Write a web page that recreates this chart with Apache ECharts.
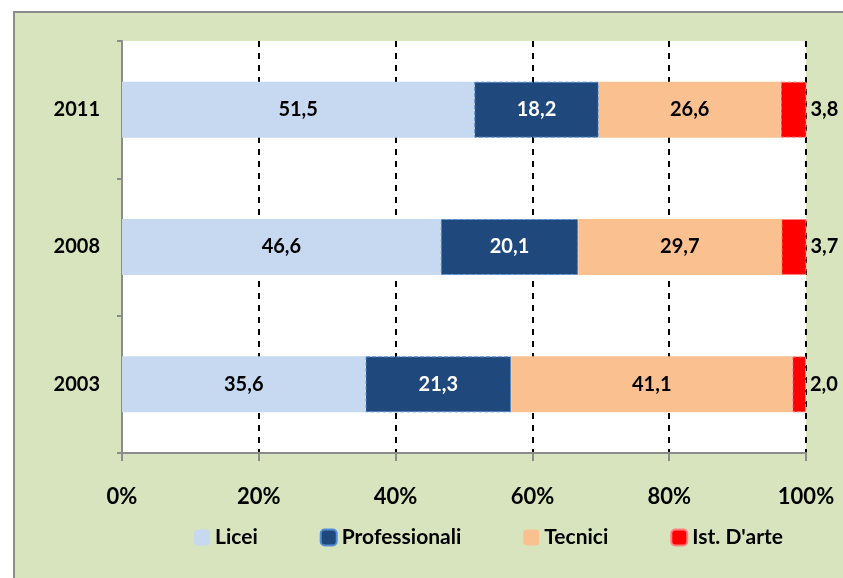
<!DOCTYPE html>
<html lang="it">
<head>
<meta charset="UTF-8" />
<title>Iscritti per tipo di scuola</title>
<script src="https://cdn.jsdelivr.net/npm/echarts@6/dist/echarts.min.js"></script>
<style>
  html, body { margin: 0; padding: 0; background: #fff; }
  #main { width: 843px; height: 578px; }
</style>
</head>
<body>
<div id="main"></div>
<script>
// anni (dal basso verso l'alto)
var anni = ['2003', '2008', '2011'];
var licei = [35.6, 46.6, 51.5];
var professionali = [21.3, 20.1, 18.2];
var tecnici = [41.1, 29.7, 26.6];
var istArte = [2.0, 3.7, 3.8];
var xTicks = [0, 20, 40, 60, 80, 100];

var FONT = 'Lato, "Open Sans", sans-serif';

function fmt(v) {
  return v.toFixed(1).replace('.', ',');
}

var myChart = echarts.init(document.getElementById('main'));

myChart.setOption({
  backgroundColor: '#fff',
  animation: false,
  graphic: [{
    type: 'rect',
    z: -10,
    shape: { x: 14, y: 12, width: 900, height: 600 },
    style: { fill: '#d7e4bd', stroke: '#8c8c8c', lineWidth: 2 }
  }],
  grid: {
    left: 122, right: 37, top: 41, bottom: 125,
    show: true, backgroundColor: '#fff', borderWidth: 0
  },
  legend: {
    bottom: 25,
    left: 189,
    itemWidth: 16,
    itemHeight: 16,
    itemGap: 62,
    textStyle: { fontFamily: FONT, fontWeight: 'bold', fontSize: 21, color: '#000' },
    data: ['Licei', 'Professionali', 'Tecnici', "Ist. D'arte"]
  },
  xAxis: {
    type: 'value',
    min: 0, max: 100, interval: 20,
    axisLine: { show: true, lineStyle: { color: '#8c8c8c', width: 2 } },
    axisTick: { show: true, length: 8, lineStyle: { color: '#8c8c8c', width: 2 } },
    axisLabel: {
      margin: 33,
      fontFamily: FONT, fontWeight: 'bold', fontSize: 22, color: '#000',
      formatter: function (v) { return xTicks.indexOf(v) >= 0 ? v + '%' : ''; }
    },
    splitLine: {
      show: true,
      lineStyle: { color: '#000', width: 2, type: [6, 6] }
    }
  },
  yAxis: {
    type: 'category',
    data: anni,
    axisLine: { show: true, lineStyle: { color: '#8c8c8c', width: 2 } },
    axisTick: { show: true, length: 5, lineStyle: { color: '#8c8c8c', width: 2 } },
    axisLabel: {
      margin: 22,
      fontFamily: FONT, fontWeight: 'bold', fontSize: 20, color: '#000'
    }
  },
  series: [
    {
      name: 'Licei', type: 'bar', stack: 'tot', data: licei,
      barWidth: 56,
      itemStyle: { color: '#c6d9f1' },
      label: {
        show: true, position: 'inside', color: '#000',
        fontFamily: FONT, fontWeight: 'bold', fontSize: 20,
        formatter: function (p) { return fmt(p.value); }
      }
    },
    {
      name: 'Professionali', type: 'bar', stack: 'tot', data: professionali,
      itemStyle: { color: '#1f497d', borderColor: '#558ed5', borderWidth: 1, borderType: 'dashed' },
      label: {
        show: true, position: 'inside', color: '#fff',
        fontFamily: FONT, fontWeight: 'bold', fontSize: 20,
        formatter: function (p) { return fmt(p.value); }
      }
    },
    {
      name: 'Tecnici', type: 'bar', stack: 'tot', data: tecnici,
      itemStyle: { color: '#fac090' },
      label: {
        show: true, position: 'inside', color: '#000',
        fontFamily: FONT, fontWeight: 'bold', fontSize: 20,
        formatter: function (p) { return fmt(p.value); }
      }
    },
    {
      name: "Ist. D'arte", type: 'bar', stack: 'tot', data: istArte,
      itemStyle: { color: '#ff0000', borderColor: '#ff8080', borderWidth: 1, borderType: 'dashed' },
      label: {
        show: true, position: 'right', distance: 4, color: '#000',
        fontFamily: FONT, fontWeight: 'bold', fontSize: 20,
        formatter: function (p) { return fmt(p.value); }
      }
    }
  ]
});
</script>
</body>
</html>
